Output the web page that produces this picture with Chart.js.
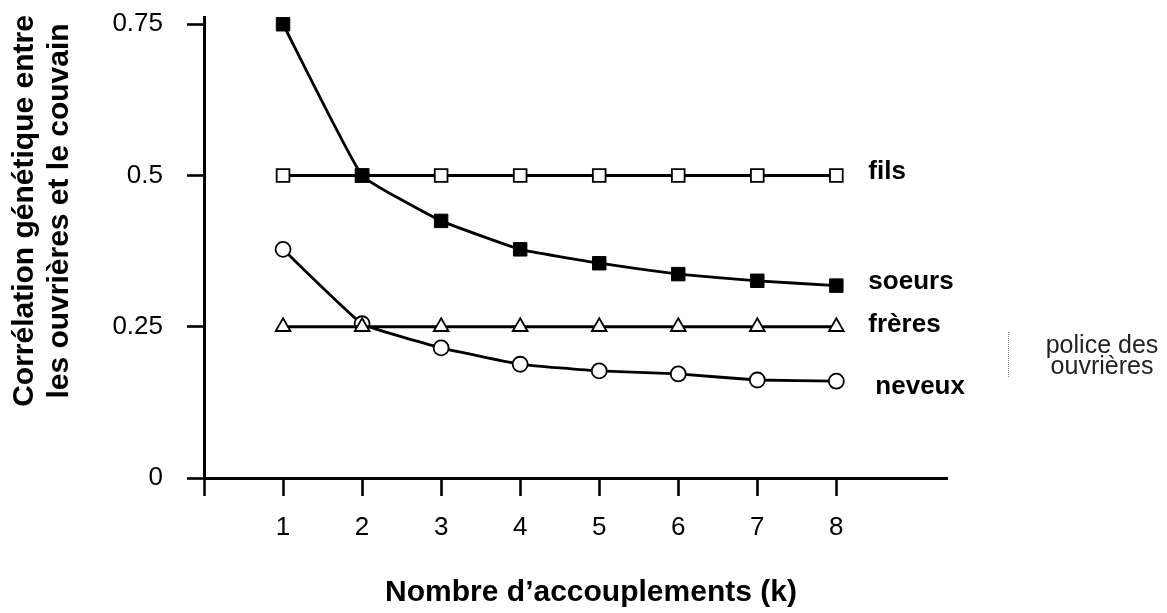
<!DOCTYPE html>
<html><head><meta charset="utf-8">
<script src="https://cdn.jsdelivr.net/npm/chart.js@4.4.1/dist/chart.umd.min.js"></script>
<style>html,body{margin:0;padding:0;background:#fff;overflow:hidden}#wrap{width:1167px;height:613px}</style>
</head><body><div id="wrap"><canvas id="c" width="1167" height="613"></canvas></div>
<script>
const categories = [1, 2, 3, 4, 5, 6, 7, 8];
const xTicks = [0, 1, 2, 3, 4, 5, 6, 7, 8];
const yTicks = [0, 0.25, 0.5, 0.75];
const yTickLabels = ['0', '0.25', '0.5', '0.75'];
const fils   = [0.5, 0.5, 0.5, 0.5, 0.5, 0.5, 0.5, 0.5];
const soeurs = [0.75, 0.5, 0.425, 0.378, 0.355, 0.337, 0.326, 0.318];
const freres = [0.25, 0.25, 0.25, 0.25, 0.25, 0.25, 0.25, 0.25];
const neveux = [0.378, 0.255, 0.215, 0.188, 0.177, 0.172, 0.162, 0.160];
const xTitle = 'Nombre d\u2019accouplements (k)';
const yTitle = ['Corrélation génétique entre', 'les ouvrières et le couvain'];
const sideNote = ['police des', 'ouvrières'];

const FONT = '"Liberation Sans", Arial, Helvetica, sans-serif';
Chart.defaults.font.family = FONT;
Chart.defaults.color = '#000';

const pts = arr => categories.map((c, i) => ({x: c, y: arr[i]}));

const textPlugin = {
  id: 'texts',
  afterDraw(chart) {
    const ctx = chart.ctx;
    const xs = chart.scales.x, ys = chart.scales.y;
    ctx.save();
    ctx.fillStyle = '#000';
    ctx.textBaseline = 'middle';
    ctx.textAlign = 'left';
    ctx.font = 'bold 26px ' + FONT;
    chart.data.datasets.forEach(ds => {
      const last = ds.data[ds.data.length - 1];
      const px = xs.getPixelForValue(last.x) + ds.labelDx;
      const py = ys.getPixelForValue(last.y) + ds.labelDy;
      ctx.fillText(ds.label, px, py);
    });
    // axis titles
    ctx.textAlign = 'center';
    ctx.font = 'bold 30px ' + FONT;
    ctx.fillText(xTitle, 591, 593);
    ctx.save();
    ctx.translate(25, 211);
    ctx.rotate(-Math.PI / 2);
    ctx.fillText(yTitle[0], 0, 0);
    ctx.fillText(yTitle[1], 0, 35);
    ctx.restore();
    // side note
    ctx.strokeStyle = '#888';
    ctx.lineWidth = 1;
    ctx.setLineDash([1, 1]);
    ctx.beginPath();
    ctx.moveTo(1008.5, 332);
    ctx.lineTo(1008.5, 378);
    ctx.stroke();
    ctx.setLineDash([]);
    ctx.fillStyle = '#222';
    ctx.textAlign = 'center';
    ctx.font = '25px ' + FONT;
    ctx.fillText(sideNote[0], 1102, 346);
    ctx.fillText(sideNote[1], 1102, 367);
    ctx.restore();
  }
};

const bgPlugin = {
  id: 'bg',
  beforeDraw(chart) {
    const ctx = chart.ctx;
    ctx.save();
    ctx.fillStyle = '#fff';
    ctx.fillRect(0, 0, chart.width, chart.height);
    ctx.restore();
  }
};

const noPad = s => { s.paddingTop = 0; s.paddingBottom = 0; s.paddingLeft = 0; s.paddingRight = 0; };
const axisGrid = {display: true, drawOnChartArea: false, drawTicks: true, tickLength: 18, tickWidth: 2.6, tickColor: '#000'};
const axisBorder = {display: true, color: '#000', width: 3};

new Chart(document.getElementById('c'), {
  type: 'line',
  data: {
    datasets: [
      {label: 'soeurs', data: pts(soeurs), order: 0, pointStyle: 'rect', pointRadius: 9.5, pointBackgroundColor: '#000', pointBorderColor: '#000', pointBorderWidth: 1, borderColor: '#000', borderWidth: 2.8, tension: 0.1, labelDx: 32, labelDy: -4},
      {label: 'frères', data: pts(freres), order: 1, pointStyle: 'triangle', pointRadius: 8.5, pointBackgroundColor: '#fff', pointBorderColor: '#000', pointBorderWidth: 1.8, borderColor: '#000', borderWidth: 2.8, tension: 0, labelDx: 32, labelDy: -2},
      {label: 'fils', data: pts(fils), order: 2, pointStyle: 'rect', pointRadius: 9, pointBackgroundColor: '#fff', pointBorderColor: '#000', pointBorderWidth: 1.8, borderColor: '#000', borderWidth: 2.8, tension: 0, labelDx: 32, labelDy: -4},
      {label: 'neveux', data: pts(neveux), order: 3, pointStyle: 'circle', pointRadius: 7.5, pointBackgroundColor: '#fff', pointBorderColor: '#000', pointBorderWidth: 1.8, borderColor: '#000', borderWidth: 2.8, tension: 0.1, labelDx: 39, labelDy: 6}
    ]
  },
  options: {
    responsive: false,
    animation: false,
    clip: false,
    layout: {padding: {left: 0, right: 220, top: 17, bottom: 0}},
    plugins: {legend: {display: false}, tooltip: {enabled: false}},
    scales: {
      x: {
        type: 'linear', min: 0, max: 9.4,
        afterBuildTicks: s => { s.ticks = xTicks.map(v => ({value: v})); },
        afterFit: s => { s.height = 135; noPad(s); },
        ticks: {callback: v => v === 0 ? '' : String(v), font: {size: 26}, color: '#000', padding: 16, autoSkip: false, maxRotation: 0},
        grid: axisGrid,
        border: axisBorder,
        title: {display: false}
      },
      y: {
        type: 'linear', min: 0, max: 0.762,
        afterBuildTicks: s => { s.ticks = yTicks.map(v => ({value: v})); },
        afterFit: s => { s.width = 204; noPad(s); },
        ticks: {callback: v => yTickLabels[yTicks.indexOf(v)] ?? '', font: {size: 26}, color: '#000', padding: 24},
        grid: Object.assign({}, axisGrid, {tickLength: 17}),
        border: axisBorder,
        title: {display: false}
      }
    }
  },
  plugins: [bgPlugin, textPlugin]
});
</script>
</body></html>
